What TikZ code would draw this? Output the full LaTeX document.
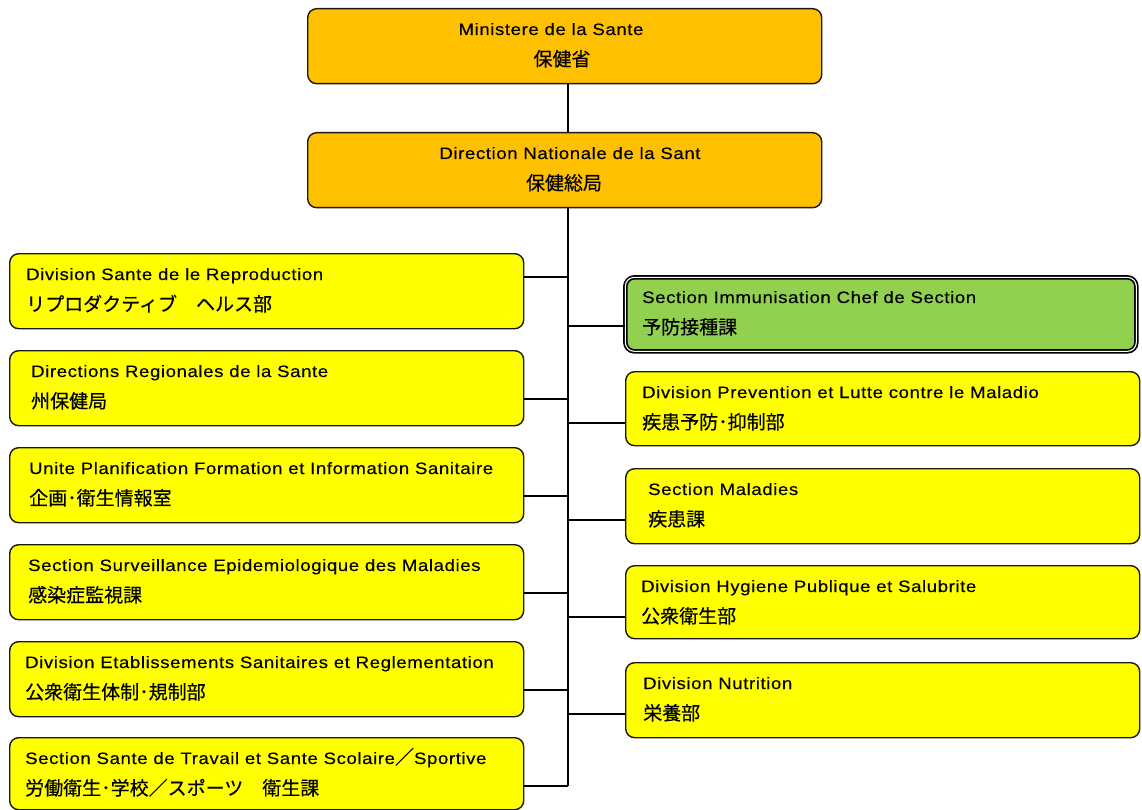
\documentclass[tikz,border=0pt]{standalone}
\usepackage{fontspec}
\setmainfont[FakeStretch=1.13,LetterSpace=3.5,FakeBold=0.25]{Liberation Sans}
\newfontfamily\jp[FakeBold=0.35]{Noto Sans CJK JP}
\definecolor{orgC}{HTML}{FFC000}
\definecolor{yelC}{HTML}{FFFF00}
\definecolor{grnC}{HTML}{92D050}
\begin{document}
\begin{tikzpicture}[x=1pt,y=-1pt,
  box/.style={draw=black!90, line width=1.4pt, rounded corners=9pt, anchor=north west, inner sep=0pt, minimum width=514pt, minimum height=75pt},
  orangebox/.style={box, fill=orgC},
  yelbox/.style={box, fill=yelC},
  greenbox/.style={box, fill=grnC, draw=black, double=white, double distance=1.1pt, line width=1.7pt, minimum width=511pt, minimum height=74pt},
  lat/.style={anchor=base west, inner sep=0pt, font=\fontsize{16.5}{18}\selectfont},
  jpt/.style={anchor=base west, inner sep=0pt, font=\jp\fontsize{19}{21}\selectfont},
  latc/.style={lat, anchor=base},
  jptc/.style={jpt, anchor=base},
  link/.style={line width=1.4pt, black}]
\useasboundingbox (0,0) rectangle (1142,810);

% top boxes
\node[orangebox] (min) at (307,8) {};
\node[latc] (minA) at (551,35) {Ministere de la Sante};
\node[jptc] (minB) at (562,66) {保健省};
\node[orangebox] (dnat) at (307,132) {};
\node[latc] (dnatA) at (570,159) {Direction Nationale de la Sant};
\node[jptc] (dnatB) at (564,190) {保健総局};

% left boxes
\node[yelbox] (L1) at (9,253) {};
\node[lat] (L1a) at (26,280) {Division Sante de le Reproduction};
\node[jpt] (L1b) at (26,311) {リプロダクティブ　ヘルス部};

\node[yelbox] (L2) at (9,350) {};
\node[lat] (L2a) at (31,377) {Directions Regionales de la Sante};
\node[jpt] (L2b) at (31,408) {州保健局};

\node[yelbox] (L3) at (9,447) {};
\node[lat] (L3a) at (29,474) {Unite Planification Formation et Information Sanitaire};
\node[jpt] (L3b) at (29,505) {企画･衛生情報室};

\node[yelbox] (L4) at (9,544) {};
\node[lat] (L4a) at (28,571) {Section Surveillance Epidemiologique des Maladies};
\node[jpt] (L4b) at (28,602) {感染症監視課};

\node[yelbox] (L5) at (9,641) {};
\node[lat] (L5a) at (25,668) {Division Etablissements Sanitaires et Reglementation};
\node[jpt] (L5b) at (25,699) {公衆衛生体制･規制部};

\node[yelbox, minimum height=72pt] (L6) at (9,737) {};
\node[lat] (L6a) at (25,764) {Section Sante de Travail et Sante Scolaire{\jp\fontsize{19}{21}\selectfont ／}Sportive};
\node[jpt] (L6b) at (25,795) {労働衛生･学校／スポーツ　衛生課};

% right boxes
\node[greenbox] (R1) at (624.5,276.5) {};
\node[lat] (R1a) at (642,303) {Section Immunisation Chef de Section};
\node[jpt] (R1b) at (642,334) {予防接種課};

\node[yelbox, minimum height=74pt] (R2) at (625,371) {};
\node[lat] (R2a) at (642,398) {Division Prevention et Lutte contre le Maladio};
\node[jpt] (R2b) at (642,429) {疾患予防･抑制部};

\node[yelbox, minimum height=75pt] (R3) at (625,468) {};
\node[lat] (R3a) at (648,495) {Section Maladies};
\node[jpt] (R3b) at (648,526) {疾患課};

\node[yelbox, minimum height=73pt] (R4) at (625,565) {};
\node[lat] (R4a) at (641,592) {Division Hygiene Publique et Salubrite};
\node[jpt] (R4b) at (641,623) {公衆衛生部};

\node[yelbox, minimum height=75pt] (R5) at (625,662) {};
\node[lat] (R5a) at (643,689) {Division Nutrition};
\node[jpt] (R5b) at (643,720) {栄養部};

% spine
\coordinate (spx) at (568,0);
\coordinate (spEnd) at (568,786);
\draw[link] (min.south -| spx) -- (dnat.north -| spx);
\draw[link] (dnat.south -| spx) -- (spEnd);

% left junctions
\coordinate (jL1) at (568,277);
\coordinate (jL2) at (568,399);
\coordinate (jL3) at (568,496);
\coordinate (jL4) at (568,593);
\coordinate (jL5) at (568,690);
\draw[link] (L1.east |- jL1) -- (jL1);
\draw[link] (L2.east |- jL2) -- (jL2);
\draw[link] (L3.east |- jL3) -- (jL3);
\draw[link] (L4.east |- jL4) -- (jL4);
\draw[link] (L5.east |- jL5) -- (jL5);
\draw[link] (L6.east |- spEnd) -- (spEnd);

% right junctions
\coordinate (jR1) at (568,326);
\coordinate (jR2) at (568,423);
\coordinate (jR3) at (568,520);
\coordinate (jR4) at (568,617);
\coordinate (jR5) at (568,714);
\draw[link] (jR1) -- (R1.west |- jR1);
\draw[link] (jR2) -- (R2.west |- jR2);
\draw[link] (jR3) -- (R3.west |- jR3);
\draw[link] (jR4) -- (R4.west |- jR4);
\draw[link] (jR5) -- (R5.west |- jR5);
\end{tikzpicture}
\end{document}
